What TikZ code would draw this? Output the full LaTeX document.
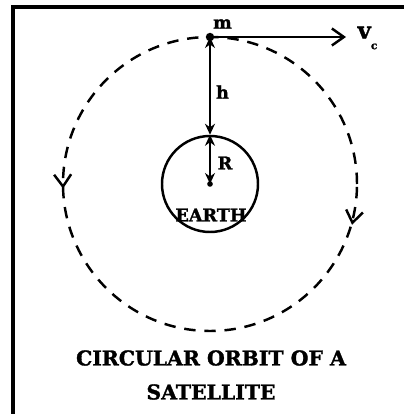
\documentclass[tikz,border=0pt]{standalone}
\usepackage{fontspec}
\setmainfont{DejaVu Serif}[BoldFeatures={FakeBold=1.5}]
\usepackage{tikz}
\usetikzlibrary{arrows.meta,positioning,calc,decorations.markings}

\begin{document}
\begin{tikzpicture}[
    font=\bfseries\fontsize{10}{11}\selectfont,
    >={Straight Barb[length=2.4mm,width=3.4mm]},
    frame/.style={line width=2pt},
    orbit/.style={line width=1.4pt, dash pattern=on 6.5pt off 5pt,
      postaction={decorate},
      decoration={markings,
        mark=at position 0.505 with {\arrow{>}},
        mark=at position 0.972 with {\arrow{<}}}},
    planet/.style={circle, draw, line width=1.4pt, minimum size=1.92cm, inner sep=0pt},
    dim/.style={{Stealth[length=2.2mm,width=2mm]}-{Stealth[length=2.2mm,width=2mm]}, line width=1.3pt},
    arr/.style={->, line width=1.4pt},
    caption/.style={font=\bfseries\fontsize{11.6}{13}\selectfont}
  ]
    \useasboundingbox (0,0) rectangle (8.08,8.28);
    \draw[frame] (0.26,0) -- (0.26,8.14) -- (8.08,8.14);

    \coordinate (ctr) at (4.2,4.6);
    \draw[orbit] (ctr) circle (2.94);
    \node[planet] (earth) at (ctr) {};
    \fill (ctr) circle (1.6pt);
    \coordinate (sat) at (4.2,7.54);
    \fill (sat) circle (2.4pt);
    \coordinate (vtip) at (6.92,7.54);

    \node (mlabel) at (4.45,7.8) {m};
    \node[font=\bfseries\fontsize{13}{14}\selectfont] (vlabel) at (7.35,7.52) {v\raisebox{-0.9ex}{\fontsize{6}{6}\selectfont c}};
    \node (hlabel) at (4.45,6.44) {h};
    \node (rlabel) at (4.5,5.02) {R};
    \node (elabel) at (4.22,3.98) {EARTH};

    \draw[arr] (sat) -- (vtip);
    \draw[dim] (sat) -- (earth.north);
    \draw[dim] (earth.north) -- (ctr);

    \node[caption] (cap1) at (4.22,1.12) {CIRCULAR ORBIT OF A};
    \node[caption] (cap2) at (4.22,0.44) {SATELLITE};
  \end{tikzpicture}
\end{document}
